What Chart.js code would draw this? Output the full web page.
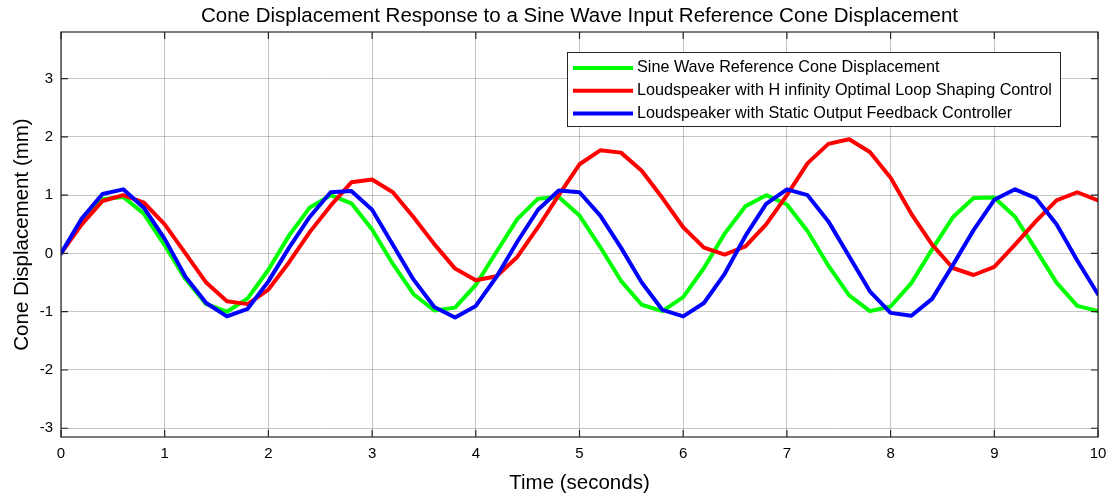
<!DOCTYPE html>
<html lang="en">
<head>
  <meta charset="UTF-8">
  <title>Cone Displacement Response</title>
  <script src="https://cdn.jsdelivr.net/npm/chart.js"></script>
  <style>
    body {
      margin: 0;
      background: white;
    }
    .wrap {
      width: 1110px;
      height: 496px;
    }
  </style>
</head>
<body>
  <div class="wrap"><canvas id="chart" width="1110" height="496"></canvas></div>
  <script>
    // time axis, sampled every 0.2 s
    const timeS = [0, 0.2, 0.4, 0.6, 0.8, 1, 1.2, 1.4, 1.6, 1.8, 2, 2.2, 2.4, 2.6, 2.8, 3, 3.2, 3.4, 3.6, 3.8,
      4, 4.2, 4.4, 4.6, 4.8, 5, 5.2, 5.4, 5.6, 5.8, 6, 6.2, 6.4, 6.6, 6.8, 7, 7.2, 7.4, 7.6, 7.8,
      8, 8.2, 8.4, 8.6, 8.8, 9, 9.2, 9.4, 9.6, 9.8, 10];

    const sineRef = [0, 0.56, 0.93, 0.97, 0.68, 0.14, -0.44, -0.87, -1.0, -0.77, -0.28, 0.31, 0.79, 1.0, 0.86, 0.41,
      -0.18, -0.7, -0.98, -0.93, -0.54, 0.03, 0.59, 0.94, 0.97, 0.65, 0.11, -0.47, -0.88, -0.99, -0.75,
      -0.25, 0.34, 0.81, 1.0, 0.84, 0.38, -0.21, -0.72, -0.99, -0.91, -0.51, 0.07, 0.62, 0.95, 0.96,
      0.63, 0.07, -0.5, -0.9, -0.99];

    const hInfinity = [0, 0.5, 0.9, 1.0, 0.87, 0.5, 0.0, -0.5, -0.82, -0.87, -0.62, -0.15, 0.37, 0.82, 1.22, 1.27,
      1.05, 0.62, 0.16, -0.26, -0.46, -0.39, -0.06, 0.45, 1.0, 1.53, 1.77, 1.73, 1.42, 0.95, 0.45,
      0.1, -0.02, 0.12, 0.5, 1.0, 1.55, 1.88, 1.96, 1.74, 1.3, 0.68, 0.15, -0.25, -0.37, -0.23,
      0.15, 0.55, 0.91, 1.05, 0.91];

    const staticFb = [0, 0.6, 1.02, 1.1, 0.78, 0.25, -0.4, -0.85, -1.08, -0.95, -0.48, 0.1, 0.63, 1.05, 1.07, 0.75,
      0.15, -0.45, -0.92, -1.1, -0.9, -0.4, 0.2, 0.75, 1.08, 1.05, 0.65, 0.1, -0.5, -0.97, -1.08,
      -0.85, -0.35, 0.3, 0.85, 1.1, 1.0, 0.55, -0.05, -0.65, -1.02, -1.07, -0.78, -0.2, 0.4, 0.92,
      1.1, 0.95, 0.5, -0.12, -0.7];

    const xTicks = [0, 1, 2, 3, 4, 5, 6, 7, 8, 9, 10];
    const yTicks = [-3, -2, -1, 0, 1, 2, 3];

    const chartTitle = 'Cone Displacement Response to a Sine Wave Input Reference Cone Displacement';
    const seriesLabels = [
      'Sine Wave Reference Cone Displacement',
      'Loudspeaker with H infinity Optimal Loop Shaping Control',
      'Loudspeaker with Static Output Feedback Controller'
    ];
    const seriesColors = ['#00ff00', '#ff0000', '#0000ff'];

    const FONT = "'Liberation Sans', Arial, sans-serif";

    function pts(values) {
      return timeS.map((t, i) => ({ x: t, y: values[i] }));
    }

    // black box around plot with small inward ticks, title over the axes, legend inside
    const boxPlugin = {
      id: 'box',
      afterDatasetsDraw(chart) {
        const { ctx, chartArea: a, scales } = chart;
        ctx.save();
        ctx.strokeStyle = '#262626';
        ctx.lineWidth = 1.2;
        ctx.strokeRect(a.left, a.top, a.right - a.left, a.bottom - a.top);
        ctx.beginPath();
        const len = 7;
        xTicks.forEach(v => {
          const px = scales.x.getPixelForValue(v);
          ctx.moveTo(px, a.bottom); ctx.lineTo(px, a.bottom - len);
          ctx.moveTo(px, a.top); ctx.lineTo(px, a.top + len);
        });
        yTicks.forEach(v => {
          const py = scales.y.getPixelForValue(v);
          ctx.moveTo(a.left, py); ctx.lineTo(a.left + len, py);
          ctx.moveTo(a.right, py); ctx.lineTo(a.right - len, py);
        });
        ctx.stroke();

        // title, centred on the axes box
        ctx.fillStyle = '#000';
        ctx.font = '20.5px ' + FONT;
        ctx.textAlign = 'center';
        ctx.textBaseline = 'middle';
        ctx.fillText(chartTitle, (a.left + a.right) / 2, 16);

        // legend, top right
        const lx = 567, ly = 52, lw = 493, lh = 74;
        ctx.fillStyle = 'white';
        ctx.fillRect(lx, ly, lw, lh);
        ctx.strokeStyle = '#262626';
        ctx.lineWidth = 1;
        ctx.strokeRect(lx + 0.5, ly + 0.5, lw, lh);
        ctx.font = '16.2px ' + FONT;
        ctx.textAlign = 'left';
        seriesLabels.forEach((lab, i) => {
          const yy = ly + 16 + i * 22.7;
          ctx.strokeStyle = seriesColors[i];
          ctx.lineWidth = 4;
          ctx.beginPath();
          ctx.moveTo(lx + 6, yy); ctx.lineTo(lx + 66, yy);
          ctx.stroke();
          ctx.fillStyle = '#000';
          ctx.fillText(lab, lx + 70, yy);
        });
        ctx.restore();
      }
    };

    new Chart(document.getElementById('chart'), {
      type: 'line',
      data: {
        datasets: [
          { label: seriesLabels[0], data: pts(sineRef), borderColor: seriesColors[0], order: 2 },
          { label: seriesLabels[1], data: pts(hInfinity), borderColor: seriesColors[1], order: 1 },
          { label: seriesLabels[2], data: pts(staticFb), borderColor: seriesColors[2], order: 0 }
        ]
      },
      options: {
        responsive: false,
        animation: false,
        devicePixelRatio: 1,
        layout: { padding: { left: 0, right: 12, top: 32, bottom: 0 } },
        elements: {
          line: { borderWidth: 4, tension: 0, borderJoinStyle: 'round', borderCapStyle: 'round' },
          point: { radius: 0 }
        },
        plugins: {
          legend: { display: false },
          tooltip: { enabled: false },
          title: { display: false }
        },
        scales: {
          x: {
            type: 'linear',
            min: 0,
            max: 10,
            afterBuildTicks: s => { s.ticks = xTicks.map(v => ({ value: v })); },
            afterFit: s => { s.height = 59; s.paddingRight = 0; s.paddingLeft = 0; },
            grid: { color: 'rgba(0,0,0,0.22)', drawTicks: false },
            border: { display: false },
            ticks: { color: '#000', font: { family: FONT, size: 15 }, padding: 8 },
            title: {
              display: true,
              text: 'Time (seconds)',
              color: '#000',
              font: { family: FONT, size: 20.5 },
              padding: { top: 4, bottom: 0 }
            }
          },
          y: {
            min: -3.15,
            max: 3.8,
            afterBuildTicks: s => { s.ticks = yTicks.map(v => ({ value: v })); },
            afterFit: s => { s.width = 61; s.paddingTop = 0; s.paddingBottom = 0; },
            grid: { color: 'rgba(0,0,0,0.22)', drawTicks: false },
            border: { display: false },
            ticks: { color: '#000', font: { family: FONT, size: 15 }, padding: 8 },
            title: {
              display: true,
              text: 'Cone Displacement (mm)',
              color: '#000',
              font: { family: FONT, size: 20.5 },
              padding: { top: 10, bottom: 0 }
            }
          }
        }
      },
      plugins: [boxPlugin]
    });
  </script>
</body>
</html>
